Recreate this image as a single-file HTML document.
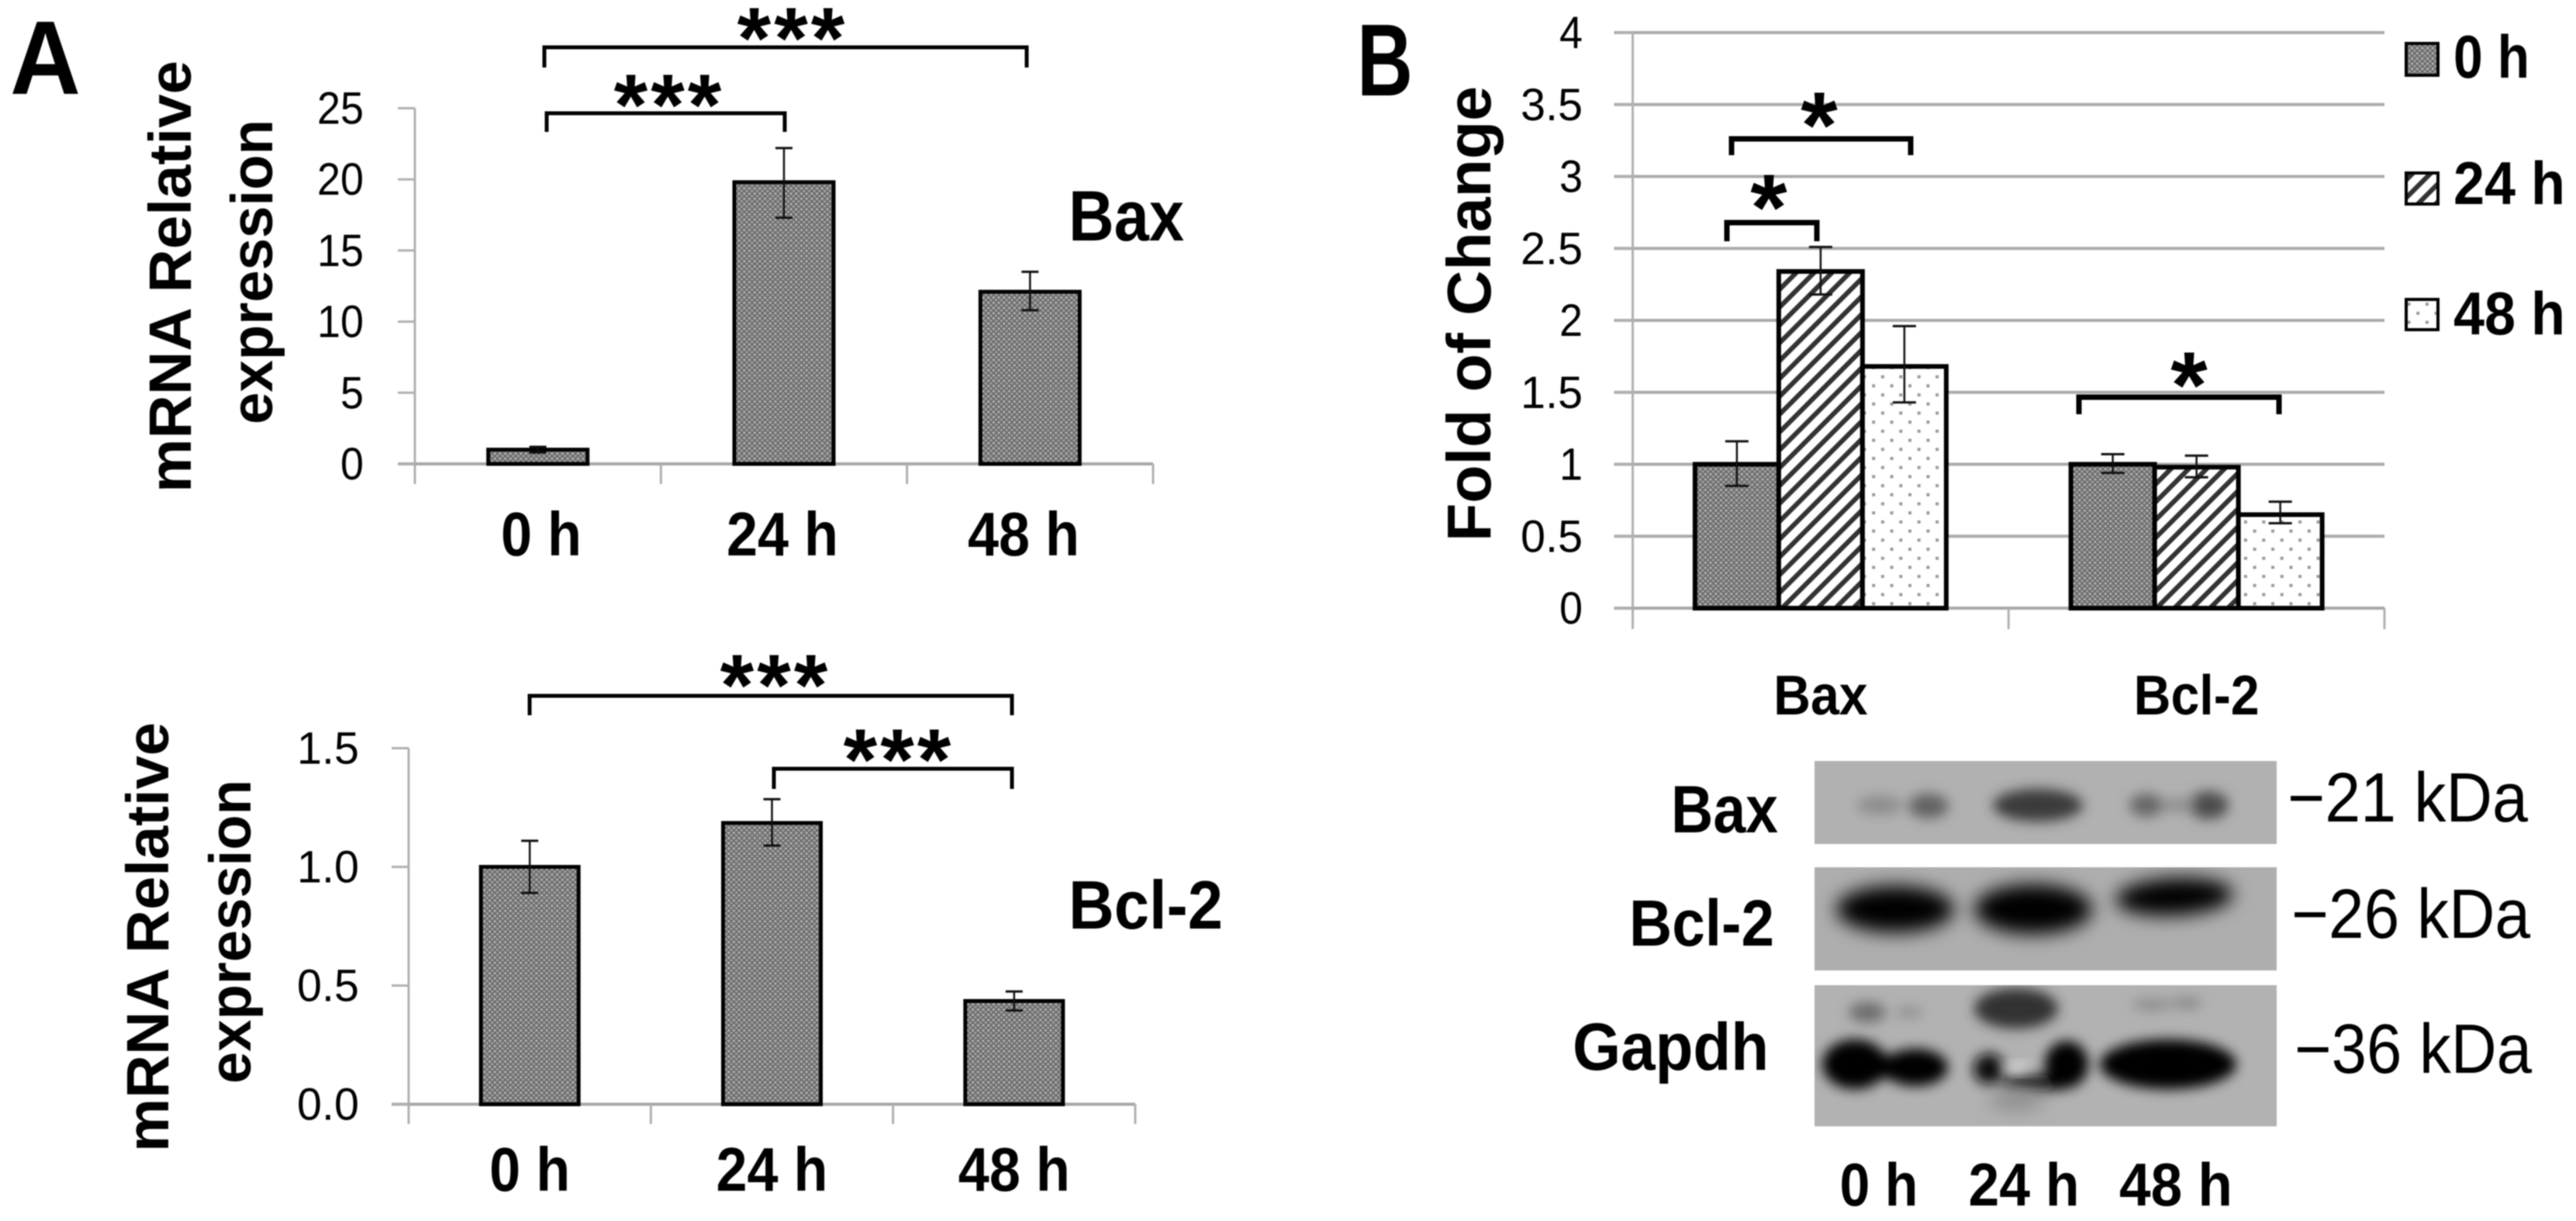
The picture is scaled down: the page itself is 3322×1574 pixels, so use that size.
<!DOCTYPE html>
<html lang="en">
<head>
<meta charset="utf-8">
<title>Bax and Bcl-2 expression</title>
<style>
html,body{margin:0;padding:0;background:#fff;width:3322px;height:1574px;overflow:hidden}
svg{display:block;filter:blur(0.7px)}
text{font-family:"Liberation Sans",sans-serif;fill:#000}
.b{font-weight:700}
</style>
</head>
<body>
<svg id="fig" xmlns="http://www.w3.org/2000/svg" width="3322" height="1574" viewBox="0 0 3322 1574">
<defs>
<pattern id="dense" width="6.7" height="6.7" patternUnits="userSpaceOnUse">
<rect width="6.7" height="6.7" fill="#6e6e6e"/><circle cx="1.7" cy="1.7" r="1.5" fill="#bdbdbd"/><circle cx="5" cy="5" r="1.5" fill="#a8a8a8"/>
</pattern>
<pattern id="stripes" width="23" height="23" patternUnits="userSpaceOnUse">
<rect width="23" height="23" fill="#fff"/>
<path d="M-6 6L6 -6M-6 29L29 -6M17 29L29 17" stroke="#333" stroke-width="6.2" fill="none"/>
</pattern>
<pattern id="dots" width="23.4" height="23.4" patternUnits="userSpaceOnUse">
<rect width="23.4" height="23.4" fill="#fff"/><rect x="4" y="4" width="4" height="4" fill="#999"/><rect x="15.7" y="15.7" width="4" height="4" fill="#999"/>
</pattern>
<filter id="blur8" x="-30%" y="-60%" width="160%" height="220%"><feGaussianBlur stdDeviation="8"/></filter>
<filter id="blur12" x="-30%" y="-60%" width="160%" height="220%"><feGaussianBlur stdDeviation="12"/></filter>
<clipPath id="clip-bax"><rect x="2340" y="981" width="596" height="107"/></clipPath>
<clipPath id="clip-bcl"><rect x="2340" y="1118" width="596" height="133"/></clipPath>
<clipPath id="clip-gapdh"><rect x="2340" y="1270" width="596" height="182"/></clipPath>
</defs>

<text class="b" x="13" y="121" font-size="135" textLength="91" lengthAdjust="spacingAndGlyphs">A</text>
<text class="b" x="1750" y="123" font-size="132" textLength="72" lengthAdjust="spacingAndGlyphs">B</text>

<g id="chart-bax"></g>
<g id="chart-bcl"></g>
<g id="chart-fold"></g>

<text class="b" font-size="77" transform="translate(246,635) rotate(-90)" textLength="557" lengthAdjust="spacingAndGlyphs">mRNA Relative</text>
<text class="b" font-size="76" transform="translate(351,547) rotate(-90)" textLength="393" lengthAdjust="spacingAndGlyphs">expression</text>
<text class="b" font-size="77" transform="translate(217,1485) rotate(-90)" textLength="554" lengthAdjust="spacingAndGlyphs">mRNA Relative</text>
<text class="b" font-size="76" transform="translate(323,1397) rotate(-90)" textLength="392" lengthAdjust="spacingAndGlyphs">expression</text>
<text class="b" font-size="80" transform="translate(1922,698) rotate(-90)" textLength="587" lengthAdjust="spacingAndGlyphs">Fold of Change</text>

<text class="b" x="1378" y="310" font-size="92" textLength="149" lengthAdjust="spacingAndGlyphs">Bax</text>
<text class="b" x="1378" y="1197" font-size="88" textLength="199" lengthAdjust="spacingAndGlyphs">Bcl-2</text>

<g fill="none" stroke="#000" stroke-width="5">
<path d="M702 87V61H1324V87"/>
<path d="M705 170V146H1012V170"/>
<path d="M683 922V897H1305V922"/>
<path d="M998 1017V991H1305V1017"/>
<path stroke-width="7" d="M2233 200V179H2464V200"/>
<path stroke-width="7" d="M2227 311V287H2343V311"/>
<path stroke-width="7" d="M2681 534V512H2939V534"/>
</g>
<g font-weight="700" text-anchor="middle">
<text x="1022" y="88" font-size="112" letter-spacing="4">***</text>
<text x="863" y="174" font-size="112" letter-spacing="4">***</text>
<text x="1000" y="922" font-size="112" letter-spacing="4">***</text>
<text x="1159" y="1018" font-size="112" letter-spacing="4">***</text>
<text x="2346" y="203" font-size="122">*</text>
<text x="2281" y="309" font-size="122">*</text>
<text x="2823" y="538" font-size="122">*</text>
</g>

<g>
<rect x="3103" y="56" width="41" height="41" fill="url(#dense)" stroke="#000" stroke-width="4"/>
<text class="b" x="3164" y="100" font-size="78" textLength="98" lengthAdjust="spacingAndGlyphs">0 h</text>
<rect x="3103" y="223" width="41" height="40" fill="url(#stripes)" stroke="#000" stroke-width="4"/>
<text class="b" x="3164" y="263" font-size="78" textLength="144" lengthAdjust="spacingAndGlyphs">24 h</text>
<rect x="3103" y="386" width="41" height="39" fill="url(#dots)" stroke="#000" stroke-width="4"/>
<text class="b" x="3164" y="431" font-size="78" textLength="144" lengthAdjust="spacingAndGlyphs">48 h</text>
</g>

<g>
<g clip-path="url(#clip-bax)">
<rect x="2340" y="981" width="596" height="107" fill="#b1b1b1"/>
<g filter="url(#blur8)">
<ellipse cx="2424" cy="1038" rx="30" ry="12" fill="#8c8c8c"/>
<ellipse cx="2487" cy="1039" rx="26" ry="16" fill="#626262"/>
<ellipse cx="2628" cy="1038" rx="58" ry="21" fill="#3a3a3a"/>
<ellipse cx="2768" cy="1038" rx="22" ry="15" fill="#666"/>
<ellipse cx="2848" cy="1038" rx="26" ry="18" fill="#4c4c4c"/>
<ellipse cx="2808" cy="1038" rx="24" ry="8" fill="#8a8a8a"/>
</g>
</g>
<g clip-path="url(#clip-bcl)">
<rect x="2340" y="1118" width="596" height="133" fill="#aeaeae"/>
<g filter="url(#blur12)">
<ellipse cx="2444" cy="1172" rx="76" ry="30" fill="#000"/>
<ellipse cx="2622" cy="1172" rx="76" ry="32" fill="#000"/>
<ellipse cx="2804" cy="1156" rx="76" ry="24" fill="#000" transform="rotate(-3 2804 1156)"/>
</g>
</g>
<g clip-path="url(#clip-gapdh)">
<rect x="2340" y="1270" width="596" height="182" fill="#b2b2b2"/>
<g filter="url(#blur8)">
<ellipse cx="2408" cy="1305" rx="24" ry="13" fill="#6c6c6c"/>
<ellipse cx="2462" cy="1305" rx="18" ry="7" fill="#8f8f8f"/>
<ellipse cx="2600" cy="1300" rx="54" ry="26" fill="#333"/>
<ellipse cx="2775" cy="1295" rx="26" ry="7" fill="#8a8a8a"/>
<ellipse cx="2820" cy="1293" rx="20" ry="8" fill="#8a8a8a"/>
<ellipse cx="2392" cy="1372" rx="42" ry="32" fill="#000"/>
<ellipse cx="2470" cy="1376" rx="42" ry="24" fill="#000"/>
<rect x="2400" y="1360" width="70" height="30" fill="#000"/>
<ellipse cx="2565" cy="1378" rx="20" ry="20" fill="#0c0c0c"/>
<ellipse cx="2630" cy="1396" rx="50" ry="10" fill="#111"/>
<ellipse cx="2665" cy="1372" rx="28" ry="30" fill="#000"/>
<ellipse cx="2796" cy="1372" rx="88" ry="32" fill="#000"/>
</g>
<ellipse cx="2600" cy="1377" rx="20" ry="6" fill="#dcdcdc" filter="url(#blur8)"/>
<ellipse cx="2600" cy="1418" rx="36" ry="14" fill="#8e8e8e" filter="url(#blur12)"/>
</g>
</g>

<text class="b" x="2155" y="1073" font-size="86" textLength="138" lengthAdjust="spacingAndGlyphs">Bax</text>
<text class="b" x="2101" y="1219" font-size="84" textLength="187" lengthAdjust="spacingAndGlyphs">Bcl-2</text>
<text class="b" x="2028" y="1379" font-size="86" textLength="253" lengthAdjust="spacingAndGlyphs">Gapdh</text>
<text x="2950" y="1059" font-size="90" textLength="310" lengthAdjust="spacingAndGlyphs">−21 kDa</text>
<text x="2955" y="1209" font-size="90" textLength="308" lengthAdjust="spacingAndGlyphs">−26 kDa</text>
<text x="2959" y="1383" font-size="90" textLength="306" lengthAdjust="spacingAndGlyphs">−36 kDa</text>
<text class="b" x="2423" y="1554" font-size="78" text-anchor="middle" textLength="101" lengthAdjust="spacingAndGlyphs">0 h</text>
<text class="b" x="2610" y="1554" font-size="78" text-anchor="middle" textLength="143" lengthAdjust="spacingAndGlyphs">24 h</text>
<text class="b" x="2806" y="1554" font-size="78" text-anchor="middle" textLength="146" lengthAdjust="spacingAndGlyphs">48 h</text>
</svg>

<script>
// Panel A, Bax
const baxCategories = ['0 h', '24 h', '48 h'];
const baxValues = [1.0, 19.8, 12.1];
const baxHigh = [1.2, 22.2, 13.5];
const baxLow = [0.8, 17.3, 10.8];
const baxTickLabels = ['0', '5', '10', '15', '20', '25'];

// Panel A, Bcl-2
const bclCategories = ['0 h', '24 h', '48 h'];
const bclValues = [1.0, 1.185, 0.435];
const bclHigh = [1.11, 1.285, 0.475];
const bclLow = [0.89, 1.09, 0.395];
const bclTickLabels = ['0.0', '0.5', '1.0', '1.5'];

// Panel B, fold of change
const foldCategories = ['Bax', 'Bcl-2'];
const fold0h = [1.0, 1.0];
const fold0hHigh = [1.16, 1.07];
const fold0hLow = [0.85, 0.94];
const fold24h = [2.34, 0.98];
const fold24hHigh = [2.51, 1.06];
const fold24hLow = [2.18, 0.91];
const fold48h = [1.68, 0.65];
const fold48hHigh = [1.96, 0.74];
const fold48hLow = [1.43, 0.59];
const foldTickLabels = ['0', '0.5', '1', '1.5', '2', '2.5', '3', '3.5', '4'];

const NS = 'http://www.w3.org/2000/svg';
function node(tag, parent, attrs) {
  const el = document.createElementNS(NS, tag);
  for (const k in attrs) el.setAttribute(k, attrs[k]);
  parent.appendChild(el);
  return el;
}
function drawChart(c) {
  const root = document.getElementById(c.id);
  const maxV = parseFloat(c.tickLabels[c.tickLabels.length - 1]);
  const yPos = v => c.yZero + (c.yTop - c.yZero) * v / maxV;
  const band = (c.xEnd - c.xStart) / c.categories.length;
  const xCenter = i => c.xStart + band * (i + 0.5);
  const labelCenter = i => xCenter(i) * c.catCompress + (c.xStart + c.xEnd) / 2 * (1 - c.catCompress) + c.catShift;
  const n = c.series.length;

  if (c.grid) {
    c.tickLabels.forEach(t => {
      const el = node('line', root, {x1: c.xStart - 24, x2: c.xEnd, y1: yPos(parseFloat(t)), y2: yPos(parseFloat(t)), stroke: '#ababab', 'stroke-width': 4});
      
      
    });
  }
  const yAxis = node('line', root, {x1: c.xStart, x2: c.xStart, y1: c.yTop, y2: c.tickBottom, stroke: '#b0b0b0', 'stroke-width': 3});
  
  
  const xAxis = node('line', root, {x1: c.xStart - 22, x2: c.xEnd, y1: c.yZero, y2: c.yZero, stroke: '#a8a8a8', 'stroke-width': 4});
  
  

  for (let i = 1; i <= c.categories.length; i++) {
    const x = c.xStart + band * i;
    const tick = node('line', root, {x1: x, x2: x, y1: c.yZero, y2: c.tickBottom, stroke: '#b0b0b0', 'stroke-width': 3});
    
    
  }

  c.tickLabels.forEach(t => {
    const v = parseFloat(t);
    const tick = node('line', root, {x1: c.xStart - 22, x2: c.xStart, y1: yPos(v), y2: yPos(v), stroke: '#b0b0b0', 'stroke-width': 3});
    
    
    const width = t.replace('.', '').length * 30 + (t.includes('.') ? 20 : 0);
    const lab = node('text', root, {x: c.tickRight, y: yPos(v) + 20, 'font-size': 58, 'text-anchor': 'end', textLength: width, lengthAdjust: 'spacingAndGlyphs', fill: '#111'});
    lab.textContent = t;
    
    
  });

  c.categories.forEach((name, i) => {
    const lab = node('text', root, {x: labelCenter(i), y: c.catBaseline, 'font-size': c.catSize, 'font-weight': 700, 'text-anchor': 'middle'});
    lab.textContent = name;
    
    
    lab.setAttribute('textLength', lab.getComputedTextLength() * c.catSquish);
    lab.setAttribute('lengthAdjust', 'spacingAndGlyphs');

    c.series.forEach((s, j) => {
      const left = xCenter(i) - c.barWidth * n / 2 + c.barWidth * j;
      const top = yPos(s.values[i]);
      const bar = node('rect', root, {x: left, y: top, width: c.barWidth, height: c.yZero - top, fill: s.fill, stroke: '#000', 'stroke-width': c.barStroke});
      
      
    });
    c.series.forEach((s, j) => {
      const cx = xCenter(i) - c.barWidth * n / 2 + c.barWidth * (j + 0.5);
      const hi = yPos(s.high[i]);
      const lo = yPos(s.low[i]);
      const stem = node('line', root, {x1: cx, x2: cx, y1: hi, y2: lo, stroke: '#111', 'stroke-width': 2.5});
      
      
      const capHi = node('line', root, {x1: cx - c.cap, x2: cx + c.cap, y1: hi, y2: hi, stroke: '#111', 'stroke-width': 3});
      
      
      const capLo = node('line', root, {x1: cx - c.cap, x2: cx + c.cap, y1: lo, y2: lo, stroke: '#111', 'stroke-width': 3});
      
      
    });
  });
}

drawChart({id: 'chart-bax', categories: baxCategories, tickLabels: baxTickLabels,
  series: [{values: baxValues, high: baxHigh, low: baxLow, fill: 'url(#dense)'}],
  xStart: 535, xEnd: 1487, yZero: 598, yTop: 139.5, tickBottom: 624, tickRight: 469,
  barWidth: 128, barStroke: 5, cap: 11, catBaseline: 716, catSize: 80, catSquish: 0.9, catCompress: 0.98, catShift: -2});

drawChart({id: 'chart-bcl', categories: bclCategories, tickLabels: bclTickLabels,
  series: [{values: bclValues, high: bclHigh, low: bclLow, fill: 'url(#dense)'}],
  xStart: 527, xEnd: 1464, yZero: 1423.5, yTop: 964.5, tickBottom: 1449, tickRight: 463,
  barWidth: 126, barStroke: 5, cap: 11, catBaseline: 1535, catSize: 80, catSquish: 0.9, catCompress: 1, catShift: 0});

drawChart({id: 'chart-fold', categories: foldCategories, tickLabels: foldTickLabels,
  series: [
    {values: fold0h, high: fold0hHigh, low: fold0hLow, fill: 'url(#dense)'},
    {values: fold24h, high: fold24hHigh, low: fold24hLow, fill: 'url(#stripes)'},
    {values: fold48h, high: fold48hHigh, low: fold48hLow, fill: 'url(#dots)'}
  ],
  xStart: 2105.5, xEnd: 3075, yZero: 784, yTop: 42, tickBottom: 811, tickRight: 2041,
  barWidth: 108, barStroke: 6, cap: 15, catBaseline: 921, catSize: 72, catSquish: 0.92, catCompress: 1, catShift: 0, grid: true});
</script>
</body>
</html>
